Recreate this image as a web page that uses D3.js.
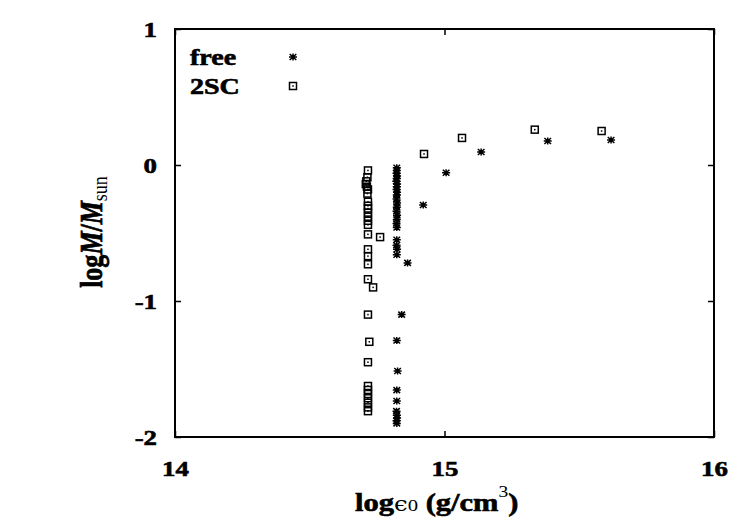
<!DOCTYPE html>
<html>
<head>
<meta charset="utf-8">
<script src="https://cdn.jsdelivr.net/npm/d3@7"></script>
<style>
  body { margin: 0; background: #fff; }
  svg { font-family: "Liberation Serif", "DejaVu Serif", serif; }
  .heavy { stroke: #000; stroke-width: 0.6px; }
</style>
</head>
<body>
<div id="chart"></div>
<script>
// tick values
const xTicks = [14, 15, 16]
const yTicks = [-2, -1, 0, 1]

// "free" series (asterisks): log eps0, log M/Msun
const freeX = [
  14.823, 14.823, 14.822, 14.824, 14.823, 14.821, 14.824, 14.823, 14.822, 14.824,
  14.823, 14.822, 14.824, 14.823, 14.822, 14.824, 14.823, 14.822, 14.823,
  14.823, 14.822, 14.824, 14.823,
  14.863, 14.841, 14.823, 14.826, 14.823, 14.823,
  14.822, 14.823, 14.824, 14.822, 14.823,
  14.921, 15.006, 15.136, 15.383, 15.618
]
const freeY = [
  -0.02, -0.04, -0.06, -0.08, -0.10, -0.12, -0.14, -0.16, -0.18, -0.20,
  -0.22, -0.25, -0.28, -0.31, -0.34, -0.37, -0.40, -0.43, -0.46,
  -0.55, -0.59, -0.62, -0.66,
  -0.72, -1.10, -1.29, -1.515, -1.655, -1.735,
  -1.81, -1.84, -1.86, -1.88, -1.90,
  -0.294, -0.057, 0.096, 0.176, 0.184
]

// "2SC" series (squares)
const scX = [
  14.716, 14.714, 14.710, 14.708, 14.712, 14.716, 14.714, 14.716, 14.716, 14.716,
  14.716, 14.716, 14.716, 14.716, 14.716, 14.716, 14.716, 14.716, 14.716,
  14.735, 14.761,
  14.716, 14.721, 14.716,
  14.716, 14.716, 14.716, 14.716, 14.716, 14.716, 14.716,
  14.924, 15.065, 15.335, 15.583
]
const scY = [
  -0.04, -0.09, -0.12, -0.14, -0.16, -0.18, -0.21, -0.27, -0.30, -0.32,
  -0.35, -0.38, -0.41, -0.44, -0.51, -0.62, -0.67, -0.73, -0.84,
  -0.90, -0.53,
  -1.10, -1.30, -1.45,
  -1.625, -1.654, -1.684, -1.715, -1.748, -1.782, -1.81,
  0.081, 0.199, 0.26, 0.25
]

const WIDTH = 750
const HEIGHT = 525
const margin = { left: 175, right: 36, top: 29, bottom: 88 }
const w = WIDTH - margin.left - margin.right
const h = HEIGHT - margin.top - margin.bottom
const STRETCH = 1.22 // the original text is drawn a bit wide

const svg = d3.select('#chart').append('svg')
  .attr('width', WIDTH)
  .attr('height', HEIGHT)

const g = svg.append('g')
  .attr('transform', `translate(${margin.left},${margin.top})`)

const x = d3.scaleLinear().domain([14, 16]).range([0, w])
const y = d3.scaleLinear().domain([-2, 1]).range([h, 0])

// axes with inward ticks (mirrored on top and right)
function styleAxis(sel) {
  sel.select('.domain').remove()
  sel.selectAll('.tick line').attr('stroke', '#000').attr('stroke-width', 1.5)
  sel.selectAll('.tick text')
    .attr('class', 'heavy')
    .attr('fill', '#000')
    .attr('transform', `scale(${STRETCH},1)`)
    .style('font-size', '22px')
    .style('font-weight', 'bold')
    .style('font-family', '"Liberation Serif", serif')
}

g.append('g')
  .attr('transform', `translate(0,${h})`)
  .call(d3.axisBottom(x).tickValues(xTicks).tickSizeInner(-6).tickSizeOuter(0)
    .tickPadding(23).tickFormat(d3.format('d')))
  .call(styleAxis)

g.append('g')
  .call(d3.axisTop(x).tickValues(xTicks).tickSizeInner(-6).tickSizeOuter(0).tickFormat(''))
  .call(styleAxis)

g.append('g')
  .call(d3.axisLeft(y).tickValues(yTicks).tickSizeInner(-6).tickSizeOuter(0)
    .tickPadding(18 / STRETCH).tickFormat(d => d < 0 ? '-' + Math.abs(d) : d))
  .call(styleAxis)

g.append('g')
  .attr('transform', `translate(${w},0)`)
  .call(d3.axisRight(y).tickValues(yTicks).tickSizeInner(-6).tickSizeOuter(0).tickFormat(''))
  .call(styleAxis)

// frame
g.append('rect')
  .attr('width', w)
  .attr('height', h)
  .attr('fill', 'none')
  .attr('stroke', '#000')
  .attr('stroke-width', 2)

// markers
const starPath = 'M-4,0H4M0,-3.5V3.5M-3.3,-3L3.3,3M-3.3,3L3.3,-3'

function drawStar(sel) {
  sel.append('path')
    .attr('d', starPath)
    .attr('stroke', '#000')
    .attr('stroke-width', 1.5)
    .attr('fill', 'none')
}

function drawSquare(sel) {
  sel.append('rect')
    .attr('x', -3.5).attr('y', -3.5)
    .attr('width', 7).attr('height', 7)
    .attr('fill', 'none')
    .attr('stroke', '#000')
    .attr('stroke-width', 1.5)
  sel.append('rect')
    .attr('x', -0.75).attr('y', -0.75)
    .attr('width', 1.5).attr('height', 1.5)
    .attr('fill', '#000')
}

const freeData = freeX.map((d, i) => ({ x: d, y: freeY[i] }))
const scData = scX.map((d, i) => ({ x: d, y: scY[i] }))

g.append('g').selectAll('g')
  .data(scData)
  .enter()
  .append('g')
  .attr('transform', d => `translate(${x(d.x)},${y(d.y)})`)
  .call(drawSquare)

g.append('g').selectAll('g')
  .data(freeData)
  .enter()
  .append('g')
  .attr('transform', d => `translate(${x(d.x)},${y(d.y)})`)
  .call(drawStar)

// legend
const legend = svg.append('g')
const legendItems = [
  { label: 'free', draw: drawStar, y: 57 },
  { label: '2SC', draw: drawSquare, y: 86 }
]
legendItems.forEach(item => {
  legend.append('text')
    .attr('class', 'heavy')
    .attr('transform', `translate(190,${item.y + 8}) scale(${STRETCH},1)`)
    .style('font-size', '23px')
    .style('font-weight', 'bold')
    .text(item.label)
  legend.append('g')
    .attr('transform', `translate(293,${item.y})`)
    .call(item.draw)
})

// x title
const xt = svg.append('text')
  .attr('class', 'heavy')
  .attr('transform', `translate(355,511) scale(${STRETCH},1)`)
  .style('font-size', '25px')
  .style('font-weight', 'bold')
xt.append('tspan').text('log')
xt.append('tspan').style('font-weight', 'normal').style('stroke-width', '0px')
  .style('font-family', '"DejaVu Serif", serif').style('font-size', '20px').text('ϵ')
xt.append('tspan').style('font-weight', 'normal').style('stroke-width', '0px')
  .style('font-size', '17px').text('0')
xt.append('tspan').text(' (g/cm')
xt.append('tspan').attr('dy', -14).style('font-weight', 'normal').style('stroke-width', '0px')
  .style('font-size', '16px').text('3')
xt.append('tspan').attr('dy', 14).text(')')

// y title
const yt = svg.append('text')
  .attr('class', 'heavy')
  .attr('transform', `translate(102,232) rotate(-90) scale(1,${STRETCH})`)
  .attr('text-anchor', 'middle')
  .style('font-size', '26px')
  .style('font-weight', 'bold')
yt.append('tspan').text('log')
yt.append('tspan').style('font-style', 'italic').text('M')
yt.append('tspan').text('/')
yt.append('tspan').style('font-style', 'italic').text('M')
yt.append('tspan').attr('dy', 4).style('font-weight', 'normal').style('stroke-width', '0px')
  .style('font-size', '18px').text('sun')
</script>
</body>
</html>
